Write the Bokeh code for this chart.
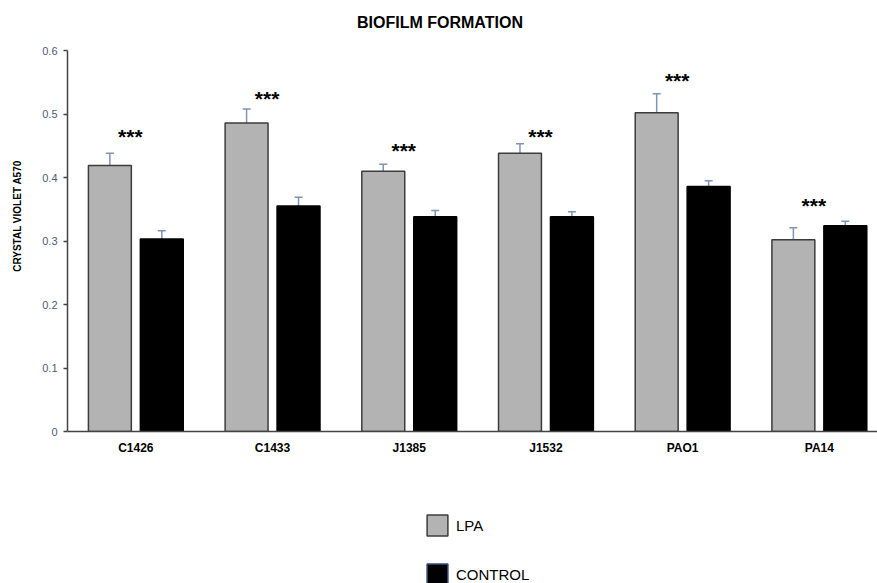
import numpy as np
from bokeh.plotting import figure
from bokeh.layouts import column
from bokeh.models import (ColumnDataSource, Range1d, FixedTicker, Whisker, TeeHead,
                          Legend, LegendItem, Label)
from bokeh.core.properties import value
from bokeh.embed import file_html
from bokeh.resources import INLINE

# ---- data ----
title_text = "BIOFILM FORMATION"
categories = ["C1426", "C1433", "J1385", "J1532", "PAO1", "PA14"]
lpa = [0.419, 0.486, 0.410, 0.438, 0.502, 0.302]
lpa_err = [0.019, 0.022, 0.011, 0.015, 0.030, 0.019]
control = [0.303, 0.355, 0.338, 0.338, 0.386, 0.324]
control_err = [0.013, 0.014, 0.010, 0.008, 0.009, 0.007]
sig_level = [0.465, 0.524, 0.443, 0.465, 0.553, 0.356]
sig_text = ["***", "***", "***", "***", "***", "***"]
y_ticks = [0, 0.1, 0.2, 0.3, 0.4, 0.5, 0.6]
series_names = ["LPA", "CONTROL"]

centers = np.arange(len(categories)) + 0.5
dodge = 0.19
bar_w = 0.314
LPA_FILL, LPA_LINE = "#b3b3b3", "#3c3c3c"
CTL_FILL, CTL_LINE = "black", "black"
ERR_COLOR = "#7f93b3"

# layout geometry (pixels)
FRAME_LEFT, PLOT_H, AXIS_PANEL = 67, 463, 32
TOP_GAP = 50                      # space above the 0.6 line, holds the title
PX_PER_UNIT_Y = (PLOT_H - AXIS_PANEL - TOP_GAP) / 0.6
PX_PER_CAT = 136.7
y_max = 0.6 + TOP_GAP / PX_PER_UNIT_Y
x_max = (877 - FRAME_LEFT) / PX_PER_CAT

src_lpa = ColumnDataSource(dict(x=centers - dodge, top=lpa,
                                up=np.array(lpa) + np.array(lpa_err)))
src_ctl = ColumnDataSource(dict(x=centers + dodge, top=control,
                                up=np.array(control) + np.array(control_err)))
src_sig = ColumnDataSource(dict(x=centers - 0.04, y=sig_level, t=sig_text))

p = figure(width=877, height=PLOT_H, output_backend="svg", toolbar_location=None,
           x_range=Range1d(0, x_max), y_range=Range1d(0, y_max),
           min_border_left=FRAME_LEFT, min_border_right=0, min_border_top=0,
           min_border_bottom=AXIS_PANEL)

p.outline_line_color = None
p.grid.grid_line_color = None
p.background_fill_color = "white"
p.border_fill_color = "white"

# chart title, centred where the reference has it
p.add_layout(Label(x=(439.5 - FRAME_LEFT) / PX_PER_CAT,
                   y=0.6 + 28.5 / PX_PER_UNIT_Y, text=title_text,
                   text_align="center", text_baseline="middle",
                   text_font="Liberation Sans", text_font_size="16px",
                   text_font_style="bold", text_color="black"))

p.vbar(x="x", top="top", width=bar_w, source=src_lpa,
       fill_color=LPA_FILL, line_color=LPA_LINE, line_width=1.5)
p.vbar(x="x", top="top", width=bar_w, source=src_ctl,
       fill_color=CTL_FILL, line_color=CTL_LINE, line_width=1.5)

for s in (src_lpa, src_ctl):
    w = Whisker(base="x", lower="top", upper="up", source=s,
                line_color=ERR_COLOR, line_width=1.5,
                upper_head=TeeHead(size=8, line_color=ERR_COLOR, line_width=1.5),
                lower_head=None)
    p.add_layout(w)

p.text(x="x", y="y", text="t", source=src_sig, text_align="center",
       text_baseline="middle", text_font=value("Liberation Sans"),
       text_font_size="21px", text_font_style="bold", text_color="black")

# axes
p.xaxis.ticker = FixedTicker(ticks=list(centers))
p.xaxis.major_label_overrides = {float(c): n for c, n in zip(centers, categories)}
p.xaxis.major_tick_line_color = None
p.xaxis.minor_tick_line_color = None
p.xaxis.major_tick_out = 0
p.xaxis.major_tick_in = 0
p.xaxis.axis_line_color = "#444444"
p.xaxis.axis_line_width = 1.5
p.xaxis.major_label_text_font = "Liberation Sans"
p.xaxis.major_label_text_font_size = "12px"
p.xaxis.major_label_text_font_style = "bold"
p.xaxis.major_label_text_color = "black"
p.xaxis.major_label_standoff = 9

p.yaxis.bounds = (0, 0.6)
p.yaxis.ticker = FixedTicker(ticks=y_ticks)
p.yaxis.major_label_overrides = {0: "0"}
p.yaxis.minor_tick_line_color = None
p.yaxis.major_tick_out = 4
p.yaxis.major_tick_in = 0
p.yaxis.major_tick_line_color = "#444444"
p.yaxis.major_tick_line_width = 1.5
p.yaxis.axis_line_color = "#444444"
p.yaxis.axis_line_width = 1.5
p.yaxis.major_label_text_font = "Liberation Sans"
p.yaxis.major_label_text_font_size = "11px"
p.yaxis.major_label_text_color = "#4f5b76"
p.yaxis.major_label_standoff = 6
p.yaxis.axis_label = "CRYSTAL VIOLET A570"
p.yaxis.axis_label_text_font = "Liberation Sans"
p.yaxis.axis_label_text_font_size = "10px"
p.yaxis.axis_label_text_font_style = "bold"
p.yaxis.axis_label_text_color = "black"
p.yaxis.axis_label_standoff = 16

# legend strip below the chart (proxy glyphs, hidden; only their legend swatches show)
pl = figure(width=877, height=583 - PLOT_H, output_backend="svg", toolbar_location=None,
            x_range=Range1d(0, 1), y_range=Range1d(0, 1),
            x_axis_location=None, y_axis_location=None,
            min_border_left=FRAME_LEFT, min_border_right=0,
            min_border_top=0, min_border_bottom=0)
pl.outline_line_color = None
pl.grid.grid_line_color = None
proxy = ColumnDataSource(dict(x=[0.0], y=[0.0]))
g_lpa = pl.rect(x="x", y="y", width=0.01, height=0.01, source=proxy,
                fill_color=LPA_FILL, line_color=LPA_LINE, line_width=1.5,
                visible=False)
g_ctl = pl.rect(x="x", y="y", width=0.01, height=0.01, source=proxy,
                fill_color=CTL_FILL, line_color="#2e4a78", line_width=1.5,
                visible=False)
legend = Legend(items=[LegendItem(label=series_names[0], renderers=[g_lpa]),
                       LegendItem(label=series_names[1], renderers=[g_ctl])],
                location=(357, -4), orientation="vertical",
                glyph_width=26, glyph_height=26, label_height=26,
                spacing=23, padding=0, margin=0, label_standoff=6,
                border_line_alpha=0, background_fill_alpha=0,
                inactive_fill_alpha=0,
                label_text_font="Liberation Sans", label_text_font_size="15px",
                label_text_color="black")
pl.add_layout(legend, "center")

layout = column(p, pl, spacing=0)
open("out.html", "w").write(file_html(layout, INLINE))
